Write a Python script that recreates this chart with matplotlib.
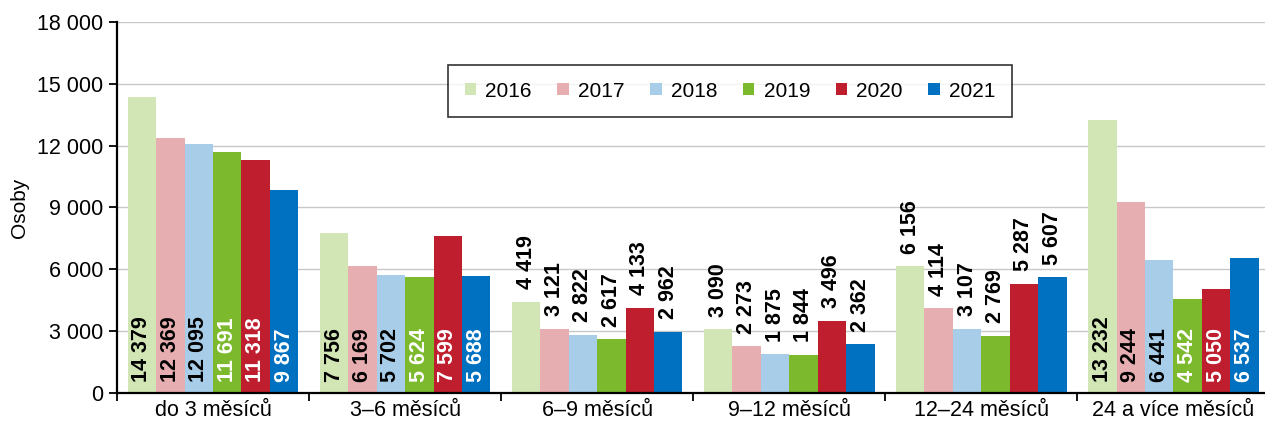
import numpy as np
import matplotlib
matplotlib.use("Agg")
import matplotlib.pyplot as plt
from matplotlib.ticker import FuncFormatter, MultipleLocator, FixedLocator

plt.rcParams['font.family'] = ['Liberation Sans', 'DejaVu Sans']

categories = ['do 3 měsíců', '3–6 měsíců', '6–9 měsíců', '9–12 měsíců',
              '12–24 měsíců', '24 a více měsíců']
years = ['2016', '2017', '2018', '2019', '2020', '2021']
v2016 = [14379, 7756, 4419, 3090, 6156, 13232]
v2017 = [12369, 6169, 3121, 2273, 4114, 9244]
v2018 = [12095, 5702, 2822, 1875, 3107, 6441]
v2019 = [11691, 5624, 2617, 1844, 2769, 4542]
v2020 = [11318, 7599, 4133, 3496, 5287, 5050]
v2021 = [9867, 5688, 2962, 2362, 5607, 6537]
series = [v2016, v2017, v2018, v2019, v2020, v2021]

colors = ['#d2e6b5', '#e7aeb2', '#a7cde8', '#7cb92d', '#be1e2d', '#0070c0']
label_colors = ['black', 'black', 'black', 'white', 'white', 'white']
# groups whose labels sit above the bars
above = [2, 3, 4]

def fmt(v):
    return f'{v:,}'.replace(',', ' ')

fig = plt.figure(figsize=(12.65, 4.29), dpi=100)
ax = fig.add_axes([0.0925, 0.084, 0.911, 0.865])

x = np.arange(len(categories))
w = 0.148
for i, (yr, vals) in enumerate(zip(years, series)):
    pos = x + (i - 2.5) * w
    ax.bar(pos, vals, w, color=colors[i], label=yr, zorder=2)
    for j, (p, v) in enumerate(zip(pos, vals)):
        if j in above:
            ax.annotate(fmt(v), (p, v), xytext=(0, 9), textcoords='offset points',
                        rotation=90, ha='center', va='bottom', fontsize=15.5,
                        fontweight='bold', color='black')
        else:
            ax.annotate(fmt(v), (p, 0), xytext=(0, 8), textcoords='offset points',
                        rotation=90, ha='center', va='bottom', fontsize=15.5,
                        fontweight='bold', color=label_colors[i])

ax.set_xlim(-0.5, 5.5)
ax.set_ylim(0, 18000)
ax.yaxis.set_major_locator(MultipleLocator(3000))
ax.yaxis.set_major_formatter(FuncFormatter(lambda v, p: fmt(int(v))))
ax.grid(axis='y', color='#c8c8c8', linewidth=1, zorder=0)
ax.set_axisbelow(True)

ax.set_xticks(x)
ax.set_xticklabels(categories, fontsize=15.5)
ax.tick_params(axis='x', which='major', length=0, pad=5)
ax.xaxis.set_minor_locator(FixedLocator(np.arange(-0.5, 6, 1)))
ax.tick_params(axis='x', which='minor', length=6, width=1.3, direction='out')
ax.tick_params(axis='y', labelsize=15.5, length=6, width=1.3, direction='out', pad=4)

for s in ['top', 'right']:
    ax.spines[s].set_visible(False)
for s in ['left', 'bottom']:
    ax.spines[s].set_linewidth(1.6)

ax.set_ylabel('Osoby', fontsize=15, labelpad=6)

leg = ax.legend(ncol=6, loc='upper center', bbox_to_anchor=(0.532, 0.884),
                fontsize=15, frameon=True, fancybox=False, edgecolor='black',
                handlelength=0.55, handleheight=0.55, handletextpad=0.45,
                columnspacing=1.22, borderpad=0.8, borderaxespad=0)
leg.get_frame().set_linewidth(1.2)

fig.savefig('out.png', dpi=100)
